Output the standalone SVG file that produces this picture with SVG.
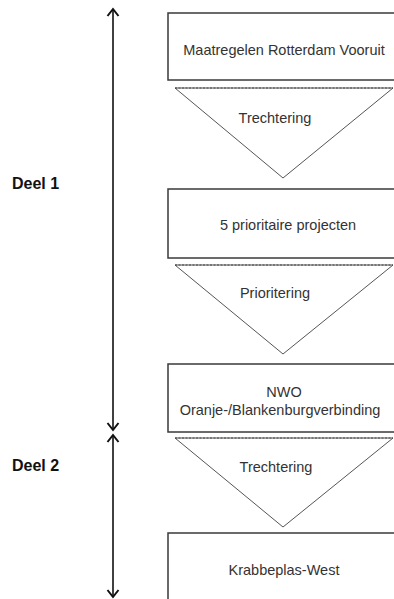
<svg xmlns="http://www.w3.org/2000/svg" width="394" height="599" viewBox="0 0 394 599">
<style>
.box{fill:#fff;stroke:#3a3a3a;stroke-width:1.5}
.tri{fill:#fff;stroke:#555;stroke-width:1}
.top{stroke:#444;stroke-width:1.2;stroke-dasharray:2 1.5}
.t{font-family:"Liberation Sans",Arial,sans-serif;font-size:14.5px;fill:#333;text-anchor:middle}
.d{font-family:"Liberation Sans",Arial,sans-serif;font-size:16px;font-weight:bold;fill:#111}
.ax{stroke:#111;stroke-width:1.6;fill:none}
</style>
<defs>
<marker id="ah" viewBox="0 0 14 14" refX="11" refY="7" markerWidth="14" markerHeight="14" markerUnits="userSpaceOnUse" orient="auto-start-reverse">
<path d="M4,1.5 L11,7 L4,12.5" fill="none" stroke="#111" stroke-width="2"/>
</marker>
</defs>
<rect width="394" height="599" fill="#fff"/>
<g id="connectors">
<line class="ax" x1="113" y1="9" x2="113" y2="430" marker-start="url(#ah)" marker-end="url(#ah)"/>
<line class="ax" x1="113" y1="435" x2="113" y2="597" marker-start="url(#ah)" marker-end="url(#ah)"/>
</g>
<g id="deel1"><text class="d" x="12" y="189">Deel 1</text></g>
<g id="deel2"><text class="d" x="12" y="471">Deel 2</text></g>
<g id="box1">
<rect class="box" x="168" y="13" width="240" height="67"/>
<text class="t" x="284" y="55">Maatregelen Rotterdam Vooruit</text>
</g>
<g id="funnel1">
<polygon class="tri" points="175,88 393,88 283,178"/>
<line class="top" x1="175" y1="88" x2="393" y2="88"/>
<text class="t" x="275" y="123">Trechtering</text>
</g>
<g id="box2">
<rect class="box" x="168" y="189" width="240" height="69"/>
<text class="t" x="288" y="230">5 prioritaire projecten</text>
</g>
<g id="funnel2">
<polygon class="tri" points="175,265 393,265 283,354"/>
<line class="top" x1="175" y1="265" x2="393" y2="265"/>
<text class="t" x="275" y="298">Prioritering</text>
</g>
<g id="box3">
<rect class="box" x="168" y="364" width="240" height="68"/>
<text class="t" x="284" y="397">NWO</text>
<text class="t" x="280" y="415">Oranje-/Blankenburgverbinding</text>
</g>
<g id="funnel3">
<polygon class="tri" points="175,438 393,438 283,527"/>
<line class="top" x1="175" y1="438" x2="393" y2="438"/>
<text class="t" x="276" y="472">Trechtering</text>
</g>
<g id="box4">
<rect class="box" x="168" y="533" width="240" height="80"/>
<text class="t" x="284" y="575">Krabbeplas-West</text>
</g>
</svg>
